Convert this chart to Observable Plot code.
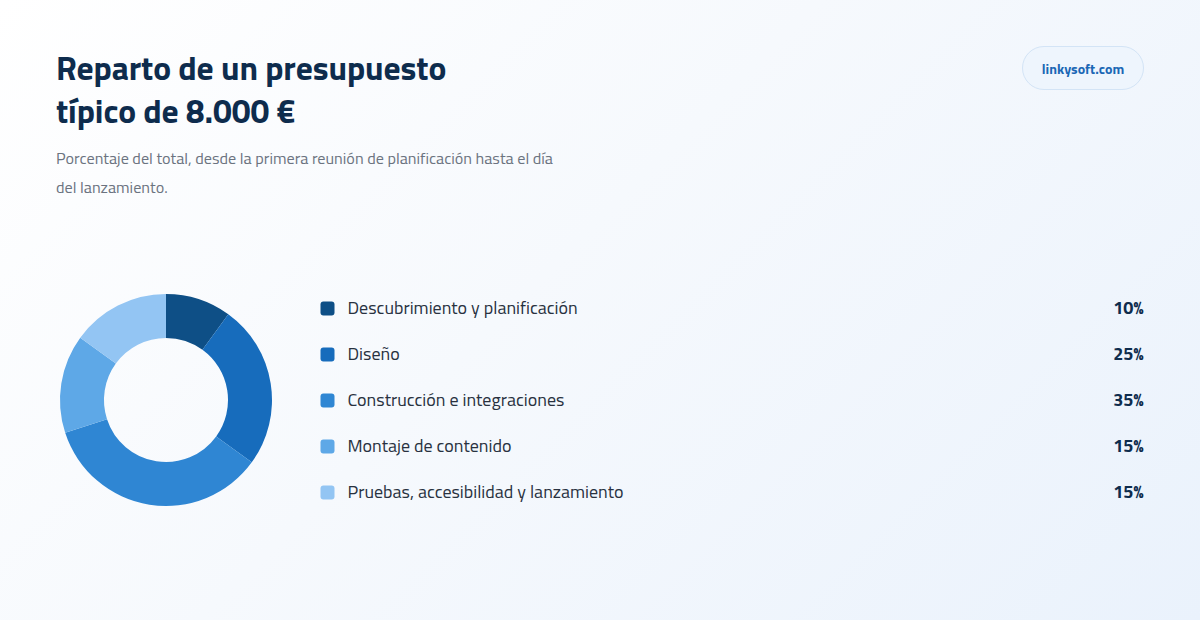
<!DOCTYPE html>
<html lang="es">
<head>
<meta charset="utf-8">
<script src="https://cdn.jsdelivr.net/npm/d3@7"></script>
<script src="https://cdn.jsdelivr.net/npm/@observablehq/plot@0.6"></script>
<style>
  html, body { margin: 0; padding: 0; }
  body {
    width: 1200px; height: 620px; overflow: hidden; position: relative;
    background: linear-gradient(135deg, #ffffff 0%, #f6f9fd 45%, #eaf2fc 100%);
    font-family: "Titillium Web", "Fira Sans", "Noto Sans", sans-serif;
  }
  #title {
    position: absolute; left: 56px; top: 46px; margin: 0;
    font-size: 33.6px; font-weight: 700; line-height: 43px; color: #0e2c4d;
    letter-spacing: -0.1px;
  }
  #subtitle {
    position: absolute; left: 56px; top: 144px; margin: 0; width: 510px;
    font-size: 16.2px; line-height: 29px; color: #6b7380;
  }
  #badge {
    position: absolute; left: 1022px; top: 46px; width: 122px; height: 44px;
    box-sizing: border-box; border: 1px solid #d3e4f6; border-radius: 22px;
    background: #eef5fd; color: #1a67b5; font-weight: 700; font-size: 14px;
    display: flex; align-items: center; justify-content: center;
  }
  #donut { position: absolute; left: 60px; top: 294px; }
  #legend { position: absolute; left: 320px; top: 285px; }
  svg { overflow: visible; }
</style>
</head>
<body>
<h1 id="title">Reparto de un presupuesto<br>típico de 8.000 €</h1>
<p id="subtitle">Porcentaje del total, desde la primera reunión de planificación hasta el día del lanzamiento.</p>
<div id="badge">linkysoft.com</div>
<div id="donut"></div>
<div id="legend"></div>
<script>
const categories = [
  "Descubrimiento y planificación",
  "Diseño",
  "Construcción e integraciones",
  "Montaje de contenido",
  "Pruebas, accesibilidad y lanzamiento"
];
const percentages = [10, 25, 35, 15, 15];
const colors = ["#0e4f86", "#176cbc", "#2f86d3", "#5ea8e7", "#93c5f3"];

const data = categories.map((name, i) => ({name, value: percentages[i]}));
const fontFamily = getComputedStyle(document.body).fontFamily;

// Donut chart
const donutSize = 212;
const donut = Plot.plot({
  width: donutSize,
  height: donutSize,
  margin: 0,
  style: {background: "transparent", fontFamily},
  color: {domain: categories, range: colors},
  marks: [
    (index, scales, values, dimensions) => {
      const {width, height} = dimensions;
      const r = Math.min(width, height) / 2;
      const pie = d3.pie().sort(null).value(d => d.value)(data);
      const arc = d3.arc().innerRadius(r * 0.585).outerRadius(r);
      const color = d3.scaleOrdinal(categories, colors);
      const g = d3.create("svg:g").attr("transform", `translate(${width / 2},${height / 2})`);
      g.selectAll("path").data(pie).join("path")
        .attr("d", arc)
        .attr("fill", d => color(d.data.name));
      return g.node();
    }
  ]
});
document.getElementById("donut").append(donut);

// Rounded square symbol
const roundedSquare = {
  draw(context, size) {
    const h = Math.sqrt(size / Math.PI);
    const rr = h * 0.42;
    context.moveTo(-h + rr, -h);
    context.lineTo(h - rr, -h);
    context.arcTo(h, -h, h, -h + rr, rr);
    context.lineTo(h, h - rr);
    context.arcTo(h, h, h - rr, h, rr);
    context.lineTo(-h + rr, h);
    context.arcTo(-h, h, -h, h - rr, rr);
    context.lineTo(-h, -h + rr);
    context.arcTo(-h, -h, -h + rr, -h, rr);
    context.closePath();
  }
};

// Legend
const legend = Plot.plot({
  width: 824,
  height: 230,
  marginTop: 23,
  marginBottom: 23,
  marginLeft: 7,
  marginRight: 1,
  style: {background: "transparent", fontFamily, overflow: "visible"},
  y: {type: "point", domain: categories, padding: 0, axis: null},
  color: {domain: categories, range: colors},
  marks: [
    Plot.dot(data, {y: "name", fill: "name", r: 7, symbol: roundedSquare, frameAnchor: "left"}),
    Plot.text(data, {y: "name", text: "name", frameAnchor: "left", dx: 20, textAnchor: "start",
      fontSize: 18, fill: "#28313f"}),
    Plot.text(data, {y: "name", text: d => `${d.value}%`, frameAnchor: "right", textAnchor: "end",
      fontSize: 18, fontWeight: 700, fill: "#0e2c4d"})
  ]
});
document.getElementById("legend").append(legend);
</script>
</body>
</html>
